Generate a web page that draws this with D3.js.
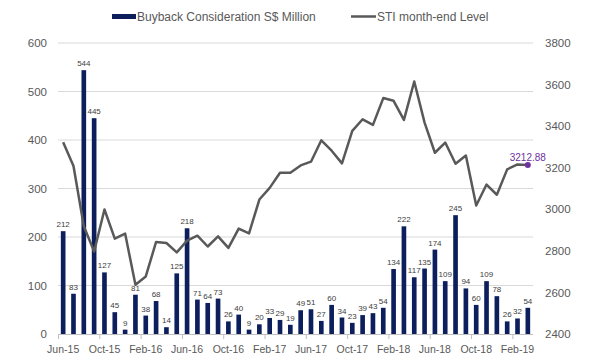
<!DOCTYPE html>
<html>
<head>
<meta charset="utf-8">
<script src="https://cdn.jsdelivr.net/npm/d3@7"></script>
<style>
  html, body { margin: 0; padding: 0; background: #fff; }
  svg { display: block; font-family: "Liberation Sans", Arial, sans-serif; }
</style>
</head>
<body>
<svg id="chart" width="600" height="360"></svg>
<script>
const months = ["Jun-15","Jul-15","Aug-15","Sep-15","Oct-15","Nov-15","Dec-15",
  "Jan-16","Feb-16","Mar-16","Apr-16","May-16","Jun-16","Jul-16","Aug-16","Sep-16","Oct-16","Nov-16","Dec-16",
  "Jan-17","Feb-17","Mar-17","Apr-17","May-17","Jun-17","Jul-17","Aug-17","Sep-17","Oct-17","Nov-17","Dec-17",
  "Jan-18","Feb-18","Mar-18","Apr-18","May-18","Jun-18","Jul-18","Aug-18","Sep-18","Oct-18","Nov-18","Dec-18",
  "Jan-19","Feb-19","Mar-19"];
const buyback = [212,83,544,445,127,45,9,
  81,38,68,14,125,218,71,64,73,26,40,9,
  20,33,29,19,49,51,27,60,34,23,39,43,
  54,134,222,117,135,174,109,245,94,60,109,78,
  26,32,54];
const sti = [3323,3208,2918,2797,2999,2859,2883,
  2637,2677,2843,2838,2793,2849,2873,2821,2870,2814,2907,2884,
  3047,3103,3176,3176,3211,3229,3332,3282,3221,3377,3433,3406,
  3535,3522,3430,3615,3417,3272,3321,3219,3259,3018,3119,3070,
  3192,3216,3212.88];
const xTickLabels = ["Jun-15","Oct-15","Feb-16","Jun-16","Oct-16","Feb-17","Jun-17","Oct-17","Feb-18","Jun-18","Oct-18","Feb-19"];
const leftTicks = [0,100,200,300,400,500,600];
const rightTicks = [2400,2600,2800,3000,3200,3400,3600,3800];
const seriesNames = ["Buyback Consideration S$ Million","STI month-end Level"];
const lastLabel = "3212.88";

const svg = d3.select("#chart");
const X0 = 58, X1 = 533, Y0 = 334;
const barColor = "#0C1F5C", lineColor = "#595959", textColor = "#595959";

const x = d3.scaleBand().domain(months).range([X0, X1]).paddingInner(0.55).paddingOuter(0.275);
const xi = d3.scaleLinear().domain([0, months.length]).range([X0, X1]);
const yL = d3.scaleLinear().domain([0, 600]).range([Y0, 43]);
const yR = d3.scaleLinear().domain([2400, 3800]).range([Y0, 43]);

// gridlines
svg.append("g").selectAll("line").data(leftTicks.slice(1)).join("line")
  .attr("x1", X0).attr("x2", X1)
  .attr("y1", d => yL(d)).attr("y2", d => yL(d))
  .attr("stroke", "#D9D9D9").attr("stroke-width", 1);

// left axis labels
const gL = svg.append("g").attr("transform", `translate(${X0},0)`)
  .call(d3.axisLeft(yL).tickValues(leftTicks).tickSize(0).tickPadding(11).tickFormat(d3.format("d")));
gL.select(".domain").remove();
gL.selectAll("text").attr("fill", textColor).style("font-size", "11.5px").style("font-family", "Liberation Sans, Arial, sans-serif");

// right axis labels
const gR = svg.append("g").attr("transform", `translate(${X1},0)`)
  .call(d3.axisRight(yR).tickValues(rightTicks).tickSize(0).tickPadding(12).tickFormat(d3.format("d")));
gR.select(".domain").remove();
gR.selectAll("text").attr("fill", textColor).style("font-size", "11.5px").style("font-family", "Liberation Sans, Arial, sans-serif");

// bars
svg.append("g").selectAll("rect").data(buyback).join("rect")
  .attr("x", (d, i) => x(months[i]))
  .attr("width", x.bandwidth())
  .attr("y", d => yL(d))
  .attr("height", d => Y0 - yL(d))
  .attr("fill", barColor);

// bar labels
svg.append("g").selectAll("text").data(buyback).join("text")
  .attr("x", (d, i) => x(months[i]) + x.bandwidth() / 2)
  .attr("y", d => yL(d) - 4)
  .attr("text-anchor", "middle")
  .attr("fill", "#404040")
  .style("font-size", "8px")
  .text(d => d);

// x axis: ticks at category boundaries
const gTick = svg.append("g").attr("transform", `translate(0,${Y0})`)
  .call(d3.axisBottom(xi).tickValues(d3.range(0, months.length, 4)).tickSize(5).tickFormat(""));
gTick.select(".domain").attr("stroke", "#BFBFBF").attr("d", `M${X0},0.5H${X1}`);
gTick.selectAll(".tick line").attr("stroke", "#BFBFBF");

const gX = svg.append("g").attr("transform", `translate(0,${Y0})`)
  .call(d3.axisBottom(x).tickValues(xTickLabels).tickSize(0).tickPadding(12));
gX.select(".domain").remove();
gX.selectAll("text").attr("fill", textColor).style("font-size", "10.5px").style("font-family", "Liberation Sans, Arial, sans-serif");

// STI line
const cx = i => x(months[i]) + x.bandwidth() / 2;
const line = d3.line().x((d, i) => cx(i)).y(d => yR(d));
svg.append("path").datum(sti)
  .attr("d", line)
  .attr("fill", "none")
  .attr("stroke", lineColor)
  .attr("stroke-width", 2.5)
  .attr("stroke-linejoin", "round");

// last point marker
const li = sti.length - 1;
svg.append("circle").attr("cx", cx(li)).attr("cy", yR(sti[li])).attr("r", 3).attr("fill", "#7030A0");
svg.append("text").attr("x", cx(li)).attr("y", yR(sti[li]) - 4)
  .attr("text-anchor", "middle").attr("fill", "#7030A0")
  .style("font-size", "10px").text(lastLabel);

// legend
const lg = svg.append("g");
lg.append("rect").attr("x", 112).attr("y", 14).attr("width", 24).attr("height", 5).attr("fill", barColor);
lg.append("text").attr("x", 137).attr("y", 21).attr("fill", textColor).style("font-size", "12px").text(seriesNames[0]);
lg.append("line").attr("x1", 351).attr("x2", 376).attr("y1", 16.5).attr("y2", 16.5).attr("stroke", lineColor).attr("stroke-width", 2.5);
lg.append("text").attr("x", 377).attr("y", 21).attr("fill", textColor).style("font-size", "12px").text(seriesNames[1]);
</script>
</body>
</html>
